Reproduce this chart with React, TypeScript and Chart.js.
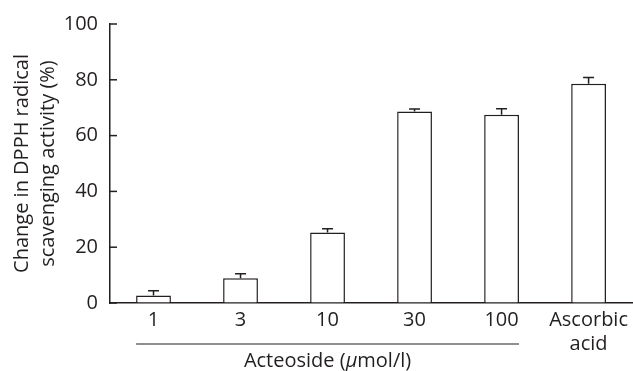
import React, { useEffect, useRef } from 'react';
import { Chart, registerables } from 'chart.js';
Chart.register(...registerables);

const categories: (string | string[])[] = ['1', '3', '10', '30', '100', ['Ascorbic', 'acid']];
const values = [2.7, 8.9, 25.3, 68.6, 67.5, 78.6];
const errors = [1.7, 1.6, 1.3, 0.9, 2.1, 2.2];
const yTickValues = [0, 20, 40, 60, 80, 100];
const yTitle = ['Change in DPPH radical', 'scavenging activity (%)'];
const groupLabelPre = 'Acteoside (';
const groupLabelMu = 'μ';
const groupLabelPost = 'mol/l)';
const groupCount = 5;

const FONT = '"Open Sans", "Noto Sans", sans-serif';
const FS = 20;
const INK = '#231f20';

const customPlugin = {
  id: 'customDraw',
  afterDraw(chart: any) {
    const ctx = chart.ctx as CanvasRenderingContext2D;
    const meta = chart.getDatasetMeta(0);
    const y = chart.scales.y;
    const x = chart.scales.x;
    const area = chart.chartArea;
    ctx.save();
    ctx.strokeStyle = INK;
    ctx.lineWidth = 1.5;
    // error bars (upper only)
    meta.data.forEach((bar: any, i: number) => {
      const top = y.getPixelForValue(values[i]);
      const e = y.getPixelForValue(values[i] + errors[i]);
      ctx.beginPath();
      ctx.moveTo(bar.x, top);
      ctx.lineTo(bar.x, e);
      ctx.moveTo(bar.x - 5.5, e);
      ctx.lineTo(bar.x + 5.5, e);
      ctx.stroke();
    });
    // inward y ticks
    yTickValues.forEach((v) => {
      const py = y.getPixelForValue(v);
      ctx.beginPath();
      ctx.moveTo(area.left, py);
      ctx.lineTo(area.left + 7, py);
      ctx.stroke();
    });
    // group line
    const first = meta.data[0];
    const last = meta.data[groupCount - 1];
    const x0 = first.x - first.width / 2;
    const x1 = last.x + last.width / 2;
    const ly = x.top + 41;
    ctx.lineWidth = 1.2;
    ctx.beginPath();
    ctx.moveTo(x0, ly);
    ctx.lineTo(x1, ly);
    ctx.stroke();
    // group label
    ctx.fillStyle = INK;
    ctx.textBaseline = 'middle';
    ctx.textAlign = 'left';
    const normal = `${FS}px ${FONT}`;
    const italic = `italic ${FS}px ${FONT}`;
    ctx.font = normal;
    const w1 = ctx.measureText(groupLabelPre).width;
    const w3 = ctx.measureText(groupLabelPost).width;
    ctx.font = italic;
    const w2 = ctx.measureText(groupLabelMu).width;
    const total = w1 + w2 + w3;
    let tx = (x0 + x1) / 2 - total / 2;
    const ty = ly + 17;
    ctx.font = normal;
    ctx.fillText(groupLabelPre, tx, ty);
    tx += w1;
    ctx.font = italic;
    ctx.fillText(groupLabelMu, tx, ty);
    tx += w2;
    ctx.font = normal;
    ctx.fillText(groupLabelPost, tx, ty);
    // y title
    const cy = (area.top + area.bottom) / 2;
    ctx.font = normal;
    ctx.textAlign = 'center';
    const xs = [22, 48];
    yTitle.forEach((line, i) => {
      ctx.save();
      ctx.translate(xs[i], cy);
      ctx.rotate(-Math.PI / 2);
      ctx.fillText(line, 0, 0);
      ctx.restore();
    });
    ctx.restore();
  },
};

export default function App() {
  const ref = useRef<HTMLCanvasElement | null>(null);
  useEffect(() => {
    if (!ref.current) return;
    const chart = new Chart(ref.current, {
      type: 'bar',
      data: {
        labels: categories,
        datasets: [
          {
            data: values,
            backgroundColor: '#ffffff',
            borderColor: INK,
            borderWidth: 1.5,
            borderSkipped: 'bottom',
            barPercentage: 0.4,
            categoryPercentage: 1,
          },
        ],
      },
      options: {
        responsive: false,
        animation: false,
        devicePixelRatio: 1,
        layout: { padding: { top: 22, right: 0, left: 0, bottom: 0 } },
        plugins: { legend: { display: false }, tooltip: { enabled: false } },
        scales: {
          x: {
            grid: { drawOnChartArea: false, drawTicks: false },
            border: { color: INK, width: 1.5 },
            ticks: {
              color: INK,
              padding: 5,
              font: { family: FONT, size: FS, lineHeight: 1.2 },
              maxRotation: 0,
              autoSkip: false,
            },
            afterFit: (s: any) => {
              s.height = 68;
            },
          },
          y: {
            min: 0,
            max: 100,
            grid: { drawOnChartArea: false, drawTicks: false },
            border: { color: INK, width: 1.5 },
            ticks: {
              stepSize: 20,
              color: INK,
              padding: 12,
              font: { family: FONT, size: FS },
            },
            afterFit: (s: any) => {
              s.width = 110;
            },
          },
        },
      },
      plugins: [customPlugin],
    });
    return () => chart.destroy();
  }, []);
  return (
    <div style={{ position: 'absolute', left: 0, top: 0, width: 633, height: 371, background: '#fff' }}>
      <canvas ref={ref} width={633} height={371} style={{ display: 'block' }} />
    </div>
  );
}
